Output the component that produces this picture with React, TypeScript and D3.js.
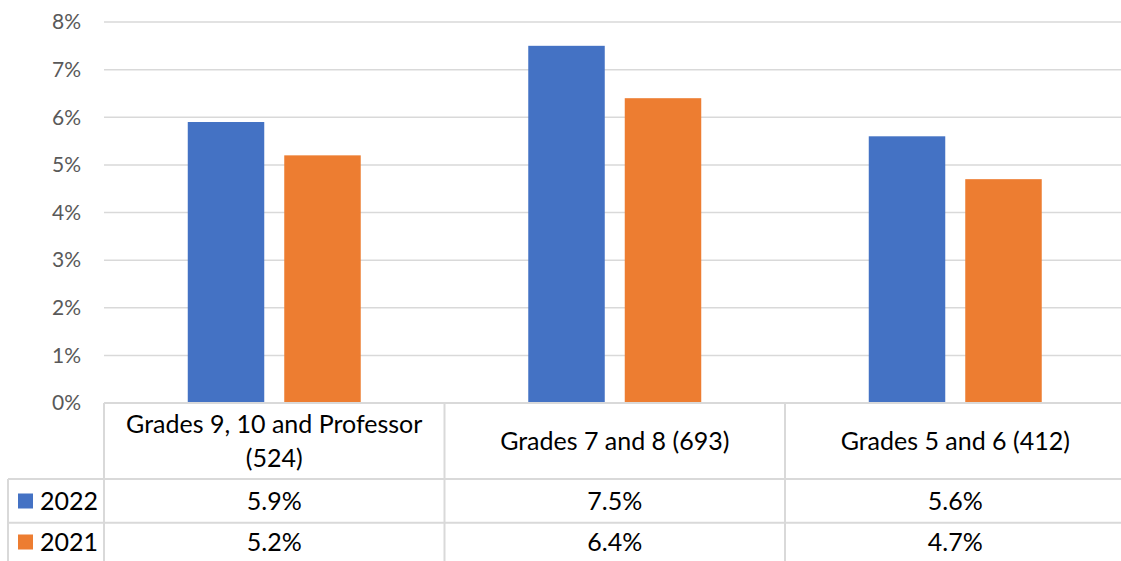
import React from "react";
import * as d3 from "d3";

// chart data
const categories = ["Grades 9, 10 and Professor (524)", "Grades 7 and 8 (693)", "Grades 5 and 6 (412)"];
const categoryLines = [["Grades 9, 10 and Professor", "(524)"], ["Grades 7 and 8 (693)"], ["Grades 5 and 6 (412)"]];
const seriesNames = ["2022", "2021"];
const values2022 = [5.9, 7.5, 5.6];
const values2021 = [5.2, 6.4, 4.7];
const yTicks = [0, 1, 2, 3, 4, 5, 6, 7, 8];

const colors = ["#4472C4", "#ED7D31"];
const W = 1121, H = 561;
const font = "Lato, 'Open Sans', sans-serif";

export default function App() {
  const left = 104, colW = 340.5, top = 22, bottom = 403;
  const right = left + colW * categories.length;
  const seriesVals = [values2022, values2021];

  const x0 = d3.scaleBand().domain(categories).range([left, right]).padding(0);
  const x1 = d3
    .scaleBand()
    .domain(seriesNames)
    .range([0, x0.bandwidth()])
    .paddingInner(20 / 96.5)
    .paddingOuter(0.868);
  const y = d3.scaleLinear().domain([0, 8]).range([bottom, top]);

  const headerBottom = 479, row1Bottom = 522.7, tableBottom = 570;
  const rowMid = [501, 542];
  const gridColor = "#D9D9D9";
  const fs = 25;

  return (
    <svg width={W} height={H} style={{ position: "fixed", left: 0, top: 0 }} fontFamily={font}>
      <rect width={W} height={H} fill="#fff" />
      {/* gridlines + y labels */}
      {yTicks.map(t => (
        <g key={t}>
          <line x1={left} x2={W + 10} y1={y(t)} y2={y(t)} stroke={gridColor} strokeWidth={1.5} />
          <text x={81} y={y(t)} dy="0.35em" textAnchor="end" fontSize={21} fill="#595959">
            {d3.format(".0%")(t / 100)}
          </text>
        </g>
      ))}
      {/* bars */}
      {categories.map((c, i) => (
        <g key={c} transform={`translate(${x0(c)},0)`}>
          {seriesNames.map((s, j) => (
            <rect
              key={s}
              x={x1(s)}
              y={y(seriesVals[j][i])}
              width={x1.bandwidth()}
              height={y(0) - y(seriesVals[j][i])}
              fill={colors[j]}
            />
          ))}
        </g>
      ))}
      {/* data table */}
      <g stroke={gridColor} strokeWidth={2}>
        <line x1={left} x2={W + 10} y1={bottom} y2={bottom} />
        <line x1={8} x2={W + 10} y1={headerBottom} y2={headerBottom} />
        <line x1={8} x2={W + 10} y1={row1Bottom} y2={row1Bottom} />
        <line x1={8} x2={8} y1={headerBottom} y2={tableBottom} />
        {d3.range(categories.length + 1).map(k => (
          <line key={k} x1={left + k * colW} x2={left + k * colW} y1={bottom} y2={tableBottom} />
        ))}
      </g>
      {categories.map((c, i) => {
        const cx = (x0(c) as number) + x0.bandwidth() / 2;
        const lines = categoryLines[i];
        const hMid = (bottom + headerBottom) / 2;
        const lh = 34;
        return (
          <g key={c} fontSize={fs} fill="#000" textAnchor="middle">
            {lines.map((l, k) => (
              <text key={k} x={cx} y={hMid + (k - (lines.length - 1) / 2) * lh} dy="0.35em">
                {l}
              </text>
            ))}
            {seriesNames.map((s, j) => (
              <text key={s} x={cx} y={rowMid[j]} dy="0.35em">
                {seriesVals[j][i].toFixed(1) + "%"}
              </text>
            ))}
          </g>
        );
      })}
      {/* legend keys */}
      {seriesNames.map((s, j) => (
        <g key={s}>
          <rect x={18} y={rowMid[j] - 7.5} width={15} height={15} fill={colors[j]} />
          <text x={40} y={rowMid[j]} dy="0.35em" fontSize={fs} fill="#000">
            {s}
          </text>
        </g>
      ))}
    </svg>
  );
}
